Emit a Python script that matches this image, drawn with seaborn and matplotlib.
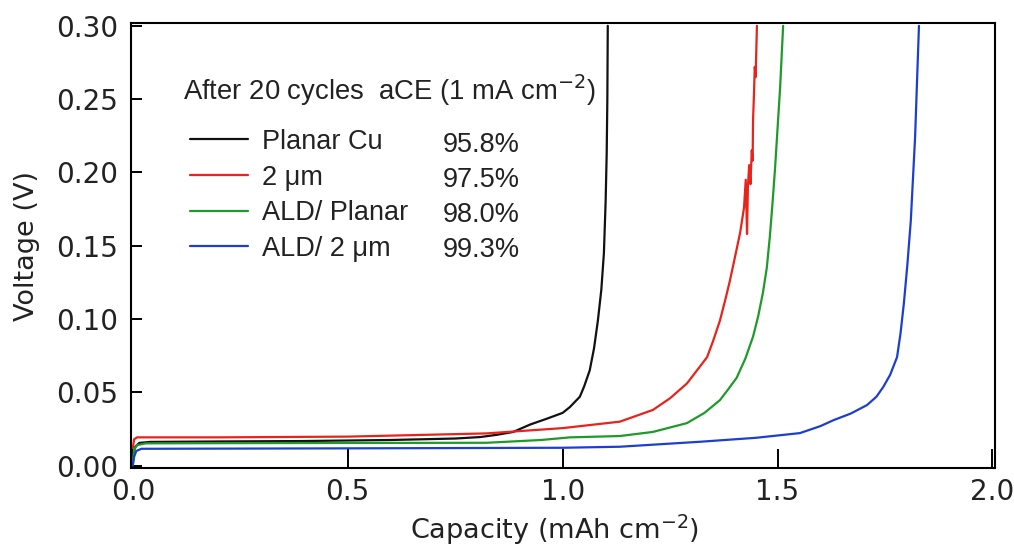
import numpy as np
import pandas as pd
import matplotlib
matplotlib.use("Agg")
import matplotlib.pyplot as plt
import seaborn as sns

# ---- data ----
series_names = ["Planar Cu", "2 \u03bcm", "ALD/ Planar", "ALD/ 2 \u03bcm"]
ace_values = ["95.8%", "97.5%", "98.0%", "99.3%"]
line_colors = ["#111111", "#e8231c", "#1f9a2a", "#1c3fcf"]

planar_cu_x = [0.0, 0.002, 0.006, 0.015, 0.04, 0.2, 0.4, 0.6, 0.75, 0.808, 0.846, 0.885,
               0.924, 0.963, 1.0, 1.017, 1.04, 1.05, 1.063, 1.073, 1.082, 1.09, 1.096,
               1.100, 1.1025, 1.104, 1.105]
planar_cu_y = [0.001, 0.009, 0.013, 0.0155, 0.0162, 0.0165, 0.0168, 0.0175, 0.0185, 0.0195,
               0.021, 0.023, 0.028, 0.032, 0.036, 0.040, 0.047, 0.054, 0.065, 0.080, 0.099,
               0.120, 0.145, 0.180, 0.213, 0.250, 0.300]

um2_x = [0.0, 0.003, 0.01, 0.2, 0.5, 0.823, 1.0, 1.133, 1.21, 1.25, 1.289, 1.31, 1.336,
         1.35, 1.366, 1.38, 1.389, 1.40, 1.413, 1.422, 1.426, 1.429, 1.431, 1.434, 1.437,
         1.440, 1.442, 1.443, 1.445, 1.447, 1.449, 1.452]
um2_y = [0.012, 0.018, 0.0193, 0.0193, 0.0198, 0.022, 0.0256, 0.030, 0.038, 0.046, 0.056,
         0.064, 0.074, 0.085, 0.099, 0.115, 0.126, 0.141, 0.159, 0.176, 0.195, 0.158, 0.190,
         0.205, 0.192, 0.215, 0.208, 0.236, 0.252, 0.272, 0.265, 0.300]

ald_planar_x = [0.0, 0.003, 0.01, 0.03, 0.3, 0.823, 0.95, 1.017, 1.133, 1.21, 1.289, 1.33,
                1.366, 1.385, 1.405, 1.425, 1.443, 1.455, 1.466, 1.475, 1.482, 1.488,
                1.494, 1.50, 1.506, 1.513]
ald_planar_y = [0.002, 0.011, 0.014, 0.0152, 0.0154, 0.0156, 0.0175, 0.0193, 0.0202, 0.023,
                0.029, 0.036, 0.0447, 0.052, 0.060, 0.073, 0.088, 0.102, 0.118, 0.135,
                0.156, 0.178, 0.202, 0.230, 0.258, 0.300]

ald_2um_x = [0.0, 0.003, 0.008, 0.02, 0.5, 1.0, 1.133, 1.32, 1.45, 1.552, 1.6, 1.63, 1.67,
             1.708, 1.73, 1.746, 1.762, 1.778, 1.786, 1.794, 1.802, 1.81, 1.82, 1.829]
ald_2um_y = [0.0, 0.006, 0.010, 0.0115, 0.0118, 0.0122, 0.0129, 0.0163, 0.019, 0.0222,
             0.027, 0.031, 0.0355, 0.0413, 0.047, 0.0537, 0.062, 0.074, 0.090, 0.111,
             0.137, 0.167, 0.224, 0.300]

xs = [planar_cu_x, um2_x, ald_planar_x, ald_2um_x]
ys = [planar_cu_y, um2_y, ald_planar_y, ald_2um_y]
frames = []
for name, x, y in zip(series_names, xs, ys):
    d = pd.DataFrame({"Capacity": x, "Voltage": y})
    d["Sample"] = name
    frames.append(d)
df = pd.concat(frames, ignore_index=True)

# ---- style ----
sns.set_theme(style="white")
plt.rcParams["font.family"] = ["DejaVu Sans"]
plt.rcParams["mathtext.fontset"] = "dejavusans"

fig = plt.figure(figsize=(10.14, 5.5), dpi=100)
ax = fig.add_axes([0.1287, 0.1491, 0.8526, 0.809])

sns.lineplot(data=df, x="Capacity", y="Voltage", hue="Sample", hue_order=series_names,
             palette=line_colors, sort=False, estimator=None, units="Sample",
             linewidth=1.6, ax=ax, legend=True)

ax.set_xlim(-0.0054, 2.006)
ax.set_ylim(-0.0016, 0.3019)
ax.set_xticks([0.0, 0.5, 1.0, 1.5, 2.0])
ax.set_xticklabels(["0.0", "0.5", "1.0", "1.5", "2.0"])
ax.set_yticks([0.0, 0.05, 0.10, 0.15, 0.20, 0.25, 0.30])
ax.set_yticklabels(["0.00", "0.05", "0.10", "0.15", "0.20", "0.25", "0.30"])

for s in ax.spines.values():
    s.set_visible(True)
    s.set_color("black")
    s.set_linewidth(1.5)

ax.tick_params(axis="x", direction="in", length=13.5, width=1.4, colors="black",
               labelsize=20, pad=7, top=False, bottom=True)
ax.tick_params(axis="y", direction="in", length=8, width=1.4, colors="black",
               labelsize=20, pad=9, left=True, right=False)
for lab in ax.get_xticklabels() + ax.get_yticklabels():
    lab.set_color("#222222")

ax.set_xlabel("Capacity (mAh cm$^{-2}$)", fontsize=19.5, color="#222222")
ax.set_ylabel("Voltage (V)", fontsize=19.5, color="#222222")
ax.xaxis.set_label_coords(0.49, -0.1)
ax.yaxis.set_label_coords(-0.105, 0.5)

# legend
leg = ax.legend(loc="upper left", bbox_to_anchor=(0.0688, 0.762), frameon=False,
                handlelength=2.15, handletextpad=0.52, labelspacing=0.355,
                borderaxespad=0, borderpad=0,
                prop={"family": ["Liberation Sans"], "size": 19.5})
for h in leg.legend_handles:
    h.set_linewidth(1.6)
for t in leg.get_texts():
    t.set_color("#222222")

ax.text(0.061, 0.827, "After 20 cycles  aCE (1 mA cm$^{-2}$)", transform=ax.transAxes,
        fontsize=19.8, family=["Liberation Sans"], color="#222222", ha="left", va="baseline")

row_y = [0.727, 0.648, 0.569, 0.490]
for v, yy in zip(ace_values, row_y):
    ax.text(0.3615, yy, v, transform=ax.transAxes, fontsize=19.5,
            family=["Liberation Sans"], color="#222222", ha="left", va="center")

fig.savefig("out.png", dpi=100)
